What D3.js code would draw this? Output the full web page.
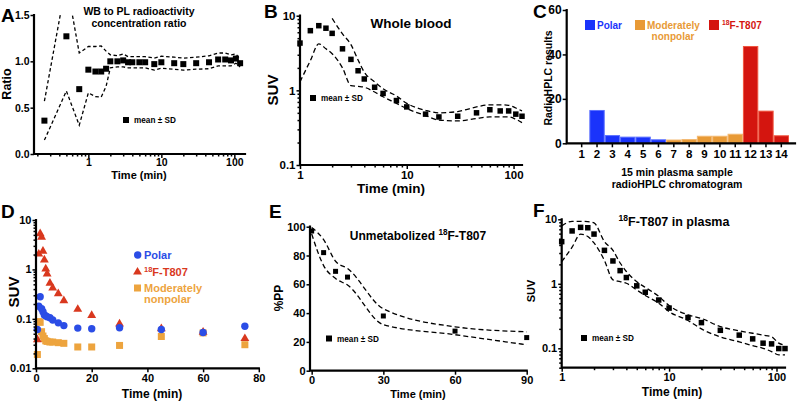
<!DOCTYPE html>
<html><head><meta charset="utf-8">
<script src="https://cdn.jsdelivr.net/npm/d3@7"></script>
<style>
body{margin:0;background:#fff}
text{font-family:"Liberation Sans",Arial,Helvetica,sans-serif;font-weight:bold}
</style></head><body>
<svg id="c" width="797" height="401"></svg>
<script>
// ---------------- DATA ----------------
// Panel A: whole blood to plasma ratio
const timesA = [0.25,0.5,0.75,1,1.25,1.5,1.75,2,2.5,3,3.5,4,5,6,8,10,15,20,30,45,60,75,90,105,120];
const ratioMean = [0.36,1.27,0.70,0.91,0.89,0.89,0.92,1.00,1.00,1.01,0.99,0.99,0.99,0.99,0.97,0.99,0.98,0.97,0.98,0.99,1.02,1.02,1.01,1.03,0.98];
const ratioSD = [0.21,0.59,0.39,0.25,0.27,0.275,0.19,0.07,0.06,0.07,0.06,0.06,0.06,0.06,0.065,0.065,0.065,0.065,0.065,0.07,0.07,0.07,0.06,0.05,0.04];
// Panel B: whole blood SUV
const timesB = [1,1.25,1.5,1.75,2,2.5,3,3.5,4,5,6,8,10,15,20,30,45,60,75,90,105,120];
const wbMean  = [4.3,6.3,7.35,6.8,5.8,3.6,2.6,1.83,1.42,1.1,0.91,0.73,0.60,0.48,0.44,0.45,0.50,0.55,0.53,0.53,0.48,0.45];
const wbUpper = [null,null,null,null,9.2,5.7,4.1,2.55,1.75,1.3,1.05,0.84,0.67,0.54,0.50,0.52,0.60,0.64,0.64,0.63,0.58,0.53];
const wbLower = [1.3,2.5,4.2,3.6,3.1,2.0,1.16,1.13,1.1,0.95,0.82,0.67,0.57,0.46,0.40,0.39,0.42,0.44,0.44,0.44,0.41,0.37];
// Panel C: radioHPLC chromatogram
const binLabels = [1,2,3,4,5,6,7,8,9,10,11,12,13,14];
const binValues = [0,15,3.7,3.0,3.0,1.8,1.7,1.9,3.4,3.4,4.3,43.8,14.7,3.6];
const binGroups = ["Polar","Polar","Polar","Polar","Polar","Polar","Moderately nonpolar","Moderately nonpolar","Moderately nonpolar","Moderately nonpolar","Moderately nonpolar","T807","T807","T807"];
// Panel D: metabolite fractions SUV
const timesD = [0.5,1,1.5,2,2.5,3,3.5,4,5,6,8,10,15,20,30,45,60,75];
const polarSUV = [0.061,0.18,0.28,0.16,0.14,0.12,0.115,0.11,0.105,0.095,0.083,0.073,0.065,0.063,0.066,0.061,0.053,0.071];
const t807SUV  = [0.039,2.1,5.4,4.6,2.4,1.6,1.05,0.83,0.54,0.43,0.33,0.24,0.16,0.12,0.081,0.065,0.055,0.041];
const modSUV   = [0.019,0.088,0.085,0.055,0.045,0.040,0.036,0.035,0.034,0.034,0.033,0.032,0.027,0.027,0.029,0.044,0.052,0.030];
// Panel E: unmetabolized parent fraction
const timesE = [0,5,10,15,30,60,90];
const ppMean  = [97,82,69,65,38,27.5,23];
const ppUpper = [99.5,91,76,71,43,30.5,27];
const ppLower = [95,73,64,59.5,32,25,18];
// Panel F: T807 in plasma
const timesF = [1,1.25,1.5,1.75,2,2.5,3,3.5,4,5,6,8,10,15,20,30,45,60,75,90,105,120];
const plMean  = [4.5,6.6,7.5,7.4,5.9,3.3,2.26,1.6,1.25,0.93,0.74,0.56,0.42,0.30,0.25,0.19,0.16,0.14,0.12,0.117,0.099,0.099];
const plUpper = [7.9,9.3,9.3,9.2,8.8,4.5,3.3,2.1,1.55,1.08,0.88,0.64,0.46,0.33,0.29,0.217,0.186,0.171,0.16,0.151,0.12,0.112];
const plLower = [2.2,3.7,5.9,5.4,4.3,2.3,1.15,1.08,1.02,0.80,0.66,0.50,0.37,0.27,0.20,0.15,0.126,0.11,0.10,0.089,0.079,0.079];

// ---------------- HELPERS ----------------
const svg = d3.select("#c");
const defs = svg.append("defs");
const COL = {blue:"#2b4de6", red:"#d9381e", orange:"#eda43e",
             barBlue:"#1a33fb", barBlueE:"#5b70ff", barOr:"#e89a36", barOrE:"#f3b870", barRed:"#d4150f", barRedE:"#f0553f"};

function label(x, y, s, size, o = {}) {
  const t = svg.append("text").attr("x", x).attr("y", y).attr("font-size", size)
    .attr("fill", o.color || "#000").attr("text-anchor", o.anchor || "start");
  if (o.rotate) t.attr("transform", `rotate(${o.rotate},${x},${y})`);
  const parts = s.split(/(\^\{[^}]*\})/).filter(p => p.length);
  let raised = false;
  parts.forEach(p => {
    if (p.startsWith("^{")) {
      t.append("tspan").attr("font-size", size * 0.68).attr("dy", -size * 0.38).text(p.slice(2, -1));
      raised = true;
    } else {
      const ts = t.append("tspan").text(p);
      if (raised) { ts.attr("dy", size * 0.38); raised = false; }
    }
  });
  return t;
}
function logVals(d0, d1) {
  const out = [];
  for (let e = -3; e <= 3; e++) for (let k = 1; k < 10; k++) {
    const v = +(k * Math.pow(10, e)).toPrecision(3);
    if (v >= d0 * 0.999 && v <= d1 * 1.001) out.push(v);
  }
  return out;
}
const isMajor = v => Math.abs(Math.log10(v) - Math.round(Math.log10(v))) < 1e-6;
function styleAxis(g, size) {
  g.attr("font-size", size).attr("font-family", null);
  g.select(".domain").remove();
  g.selectAll(".tick line").attr("stroke", "#000").attr("stroke-width", 1.5);
  g.selectAll(".tick text").attr("fill", "#000");
}
function yAxis(scale, x0, vals, fmt, size, o = {}) {
  const g = svg.append("g").attr("transform", `translate(${x0},0)`)
    .call(d3.axisLeft(scale).tickValues(vals).tickFormat(fmt).tickSize(o.ts || 3.5).tickPadding(o.pad ?? 1));
  styleAxis(g, size);
  if (o.minor) {
    const m = svg.append("g").attr("transform", `translate(${x0},0)`)
      .call(d3.axisLeft(scale).tickValues(o.minor).tickFormat("").tickSize(2.5));
    styleAxis(m, size);
  }
}
function xAxis(scale, y0, vals, fmt, size, o = {}) {
  const g = svg.append("g").attr("transform", `translate(0,${y0})`)
    .call(d3.axisBottom(scale).tickValues(vals).tickFormat(fmt).tickSize(o.ts || 4).tickPadding(o.pad ?? 1.5));
  styleAxis(g, size);
  if (o.minor) {
    const m = svg.append("g").attr("transform", `translate(0,${y0})`)
      .call(d3.axisBottom(scale).tickValues(o.minor).tickFormat("").tickSize(2.5));
    styleAxis(m, size);
  }
}
function frame(x0, x1, yTop, yBot) {
  svg.append("path").attr("d", `M${x0},${yTop}V${yBot}H${x1}`).attr("fill", "none")
    .attr("stroke", "#000").attr("stroke-width", 2.2).attr("stroke-linecap", "square");
}
function clip(id, x0, y0, x1, y1) {
  defs.append("clipPath").attr("id", id).append("rect").attr("x", x0).attr("y", y0).attr("width", x1 - x0).attr("height", y1 - y0);
  return `url(#${id})`;
}
function band(xs, vals, x, y, curve, clipUrl, dash) {
  const ln = d3.line().defined(d => d[1] != null).x(d => x(d[0])).y(d => y(d[1])).curve(curve);
  const p = svg.append("path").attr("d", ln(xs.map((t, i) => [t, vals[i]])))
    .attr("fill", "none").attr("stroke", "#000").attr("stroke-width", 1.3).attr("stroke-dasharray", dash || "4,2.5");
  if (clipUrl) p.attr("clip-path", clipUrl);
}
function squares(xs, vals, x, y, s, color) {
  svg.append("g").selectAll("rect").data(xs.map((t, i) => [t, vals[i]])).join("rect")
    .attr("x", d => x(d[0]) - s / 2).attr("y", d => y(d[1]) - s / 2).attr("width", s).attr("height", s)
    .attr("fill", color || "#000");
}
function meanSDLegend(x, y) {
  svg.append("rect").attr("x", x - 3).attr("y", y - 3).attr("width", 6).attr("height", 6).attr("fill", "#000");
  label(x + 8, y + 3, "mean ± SD", 8.2);
}
const fmtNum = d => String(d);

// ---------------- PANEL A ----------------
{
  const x = d3.scaleLog().domain([0.18, 140]).range([34, 245]);
  const y = d3.scaleLinear().domain([0, 1.5]).range([154, 15]);
  const cl = clip("clA", 34, 14, 250, 154);
  band(timesA, ratioMean.map((m, i) => m + ratioSD[i]), x, y, d3.curveLinear, cl, "3.5,2.5");
  band(timesA, ratioMean.map((m, i) => m - ratioSD[i]), x, y, d3.curveLinear, cl, "3.5,2.5");
  squares(timesA, ratioMean, x, y, 6);
  const lv = logVals(0.2, 140);
  xAxis(x, 154, lv.filter(isMajor), fmtNum, 10.5, {minor: lv.filter(v => !isMajor(v)), pad: 1});
  yAxis(y, 34, [0, 0.5, 1.0, 1.5], d3.format(".1f"), 10.5);
  frame(34, 245, 15, 154);
  meanSDLegend(126, 120);
  label(139, 15, "WB to PL radioactivity", 10.5, {anchor: "middle"});
  label(139, 27, "concentration ratio", 10.5, {anchor: "middle"});
  label(139, 179, "Time (min)", 11, {anchor: "middle"});
  label(11, 84, "Ratio", 12.5, {anchor: "middle", rotate: -90});
  label(1, 22, "A", 19);
}

// ---------------- PANEL B ----------------
{
  const x = d3.scaleLog().domain([1, 120]).range([300, 522]);
  const y = d3.scaleLog().domain([0.1, 10]).range([165, 15.7]);
  const cl = clip("clB", 300, 8, 530, 165);
  band(timesB, wbUpper, x, y, d3.curveMonotoneX, cl, "5,3");
  band(timesB, wbLower, x, y, d3.curveMonotoneX, cl, "5,3");
  squares(timesB, wbMean, x, y, 5.5);
  const xv = logVals(1, 120), yv = logVals(0.1, 10);
  xAxis(x, 165, xv.filter(isMajor), fmtNum, 11.5, {minor: xv.filter(v => !isMajor(v))});
  yAxis(y, 300, yv.filter(isMajor), fmtNum, 11.5, {minor: yv.filter(v => !isMajor(v))});
  frame(300, 522, 15.7, 165);
  meanSDLegend(313, 98);
  label(411, 28, "Whole blood", 13.5, {anchor: "middle"});
  label(391, 193, "Time (min)", 13.5, {anchor: "middle"});
  label(278, 90, "SUV", 15, {anchor: "middle", rotate: -90});
  label(264, 18, "B", 19);
}

// ---------------- PANEL C ----------------
{
  const x = d3.scaleBand().domain(binLabels).range([574, 789]).padding(0);
  const y = d3.scaleLinear().domain([0, 60]).range([143.3, 10]);
  const fill = g => g === "Polar" ? COL.barBlue : g === "T807" ? COL.barRed : COL.barOr;
  const edge = g => g === "Polar" ? COL.barBlueE : g === "T807" ? COL.barRedE : COL.barOrE;
  svg.append("g").selectAll("rect").data(binLabels.map((b, i) => ({b, v: binValues[i], g: binGroups[i]})))
    .join("rect").attr("x", d => x(d.b) + 0.5).attr("width", x.bandwidth() - 1)
    .attr("y", d => y(d.v) + 0.5).attr("height", d => Math.max(0, y(0) - y(d.v) - 0.5))
    .attr("fill", d => fill(d.g)).attr("stroke", d => edge(d.g)).attr("stroke-width", 1)
    .attr("opacity", d => d.v > 0 ? 1 : 0);
  xAxis(x, 143.3, binLabels, fmtNum, 11.5, {ts: 4, pad: 3});
  yAxis(y, 566.7, [0, 20, 40, 60], fmtNum, 12, {ts: 4, pad: 1});
  frame(566.7, 795, 10, 143.3);
  // legend
  svg.append("rect").attr("x", 585).attr("y", 20).attr("width", 10).attr("height", 10).attr("fill", COL.barBlue);
  label(597, 29, "Polar", 10, {color: "#1a33fb"});
  svg.append("rect").attr("x", 635).attr("y", 20).attr("width", 10).attr("height", 10).attr("fill", COL.barOr);
  label(647, 29, "Moderately", 10, {color: COL.barOr});
  label(673, 40, "nonpolar", 10, {anchor: "middle", color: COL.barOr});
  svg.append("rect").attr("x", 709).attr("y", 20).attr("width", 10).attr("height", 10).attr("fill", COL.barRed);
  label(722, 29, "^{18}F-T807", 10, {color: COL.barRed});
  label(677, 176, "15 min plasma sample", 10.5, {anchor: "middle"});
  label(677, 188, "radioHPLC chromatogram", 10.5, {anchor: "middle"});
  label(552, 78, "RadioHPLC results", 10.5, {anchor: "middle", rotate: -90});
  label(533, 18, "C", 19);
}

// ---------------- PANEL D ----------------
{
  const x = d3.scaleLinear().domain([0, 80]).range([36, 258.8]);
  const y = d3.scaleLog().domain([0.01, 10]).range([368.3, 220]);
  const pts = (vals) => timesD.map((t, i) => [t, vals[i]]);
  svg.append("g").selectAll("rect").data(pts(modSUV)).join("rect")
    .attr("x", d => x(d[0]) - 3.5).attr("y", d => y(d[1]) - 3.5).attr("width", 7).attr("height", 7).attr("fill", COL.orange);
  const tri = d3.symbol().type(d3.symbolTriangle).size(34);
  svg.append("g").selectAll("path").data(pts(t807SUV)).join("path")
    .attr("d", tri).attr("transform", d => `translate(${x(d[0])},${y(d[1]) + 0.5})`).attr("fill", COL.red);
  svg.append("g").selectAll("circle").data(pts(polarSUV)).join("circle")
    .attr("cx", d => x(d[0])).attr("cy", d => y(d[1])).attr("r", 3.7).attr("fill", COL.blue);
  const yv = logVals(0.01, 10);
  xAxis(x, 368.3, [0, 20, 40, 60, 80], fmtNum, 11, {ts: 4, pad: 1.5});
  yAxis(y, 36, yv.filter(isMajor), fmtNum, 11, {minor: yv.filter(v => !isMajor(v))});
  frame(36, 258.8, 220, 368.3);
  // legend
  svg.append("circle").attr("cx", 137.7).attr("cy", 255).attr("r", 3.7).attr("fill", COL.blue);
  label(144, 259, "Polar", 11, {color: COL.blue});
  svg.append("path").attr("d", tri).attr("transform", "translate(137.5,272)").attr("fill", COL.red);
  label(144, 276, "^{18}F-T807", 11, {color: COL.red});
  svg.append("rect").attr("x", 134).attr("y", 284.5).attr("width", 7).attr("height", 7).attr("fill", COL.orange);
  label(144, 292, "Moderately", 11, {color: COL.orange});
  label(144, 303, "nonpolar", 11, {color: COL.orange});
  label(152, 398, "Time (min)", 12, {anchor: "middle"});
  label(19, 292, "SUV", 15, {anchor: "middle", rotate: -90});
  label(1, 218, "D", 19);
}

// ---------------- PANEL E ----------------
{
  const x = d3.scaleLinear().domain([-0.7, 90]).range([310, 526.7]);
  const y = d3.scaleLinear().domain([0, 100]).range([370.7, 226.7]);
  band(timesE, ppUpper, x, y, d3.curveMonotoneX, null, "5,3");
  band(timesE, ppLower, x, y, d3.curveMonotoneX, null, "5,3");
  squares(timesE, ppMean, x, y, 5);
  xAxis(x, 370.7, [0, 30, 60, 90], fmtNum, 11, {ts: 4, pad: 1.5});
  yAxis(y, 310, [0, 20, 40, 60, 80, 100], fmtNum, 11, {ts: 3.5, pad: 1});
  frame(310, 526.7, 226.7, 370.7);
  meanSDLegend(329, 338.5);
  label(418, 240, "Unmetabolized ^{18}F-T807", 12, {anchor: "middle"});
  label(418, 398, "Time (min)", 11, {anchor: "middle"});
  label(283, 298, "%PP", 12, {anchor: "middle", rotate: -90});
  label(269, 218, "E", 19);
}

// ---------------- PANEL F ----------------
{
  const x = d3.scaleLog().domain([1, 120]).range([561.7, 785]);
  const y = d3.scaleLog().domain([0.05, 10]).range([367.7, 219.3]);
  const cl = clip("clF", 561.7, 210, 792, 367.7);
  band(timesF, plUpper, x, y, d3.curveMonotoneX, cl, "5,3");
  band(timesF, plLower, x, y, d3.curveMonotoneX, cl, "5,3");
  squares(timesF, plMean, x, y, 5.5);
  const xv = logVals(1, 120), yv = logVals(0.05, 10);
  xAxis(x, 367.7, xv.filter(isMajor), fmtNum, 11, {minor: xv.filter(v => !isMajor(v))});
  yAxis(y, 561.7, yv.filter(isMajor), fmtNum, 11, {minor: yv.filter(v => !isMajor(v))});
  frame(561.7, 785, 219.3, 367.7);
  meanSDLegend(584, 338);
  label(674, 226, "^{18}F-T807 in plasma", 12.5, {anchor: "middle"});
  label(672, 396, "Time (min)", 12, {anchor: "middle"});
  label(535, 291, "SUV", 11, {anchor: "middle", rotate: -90});
  label(533, 217, "F", 19);
}
</script></body></html>
